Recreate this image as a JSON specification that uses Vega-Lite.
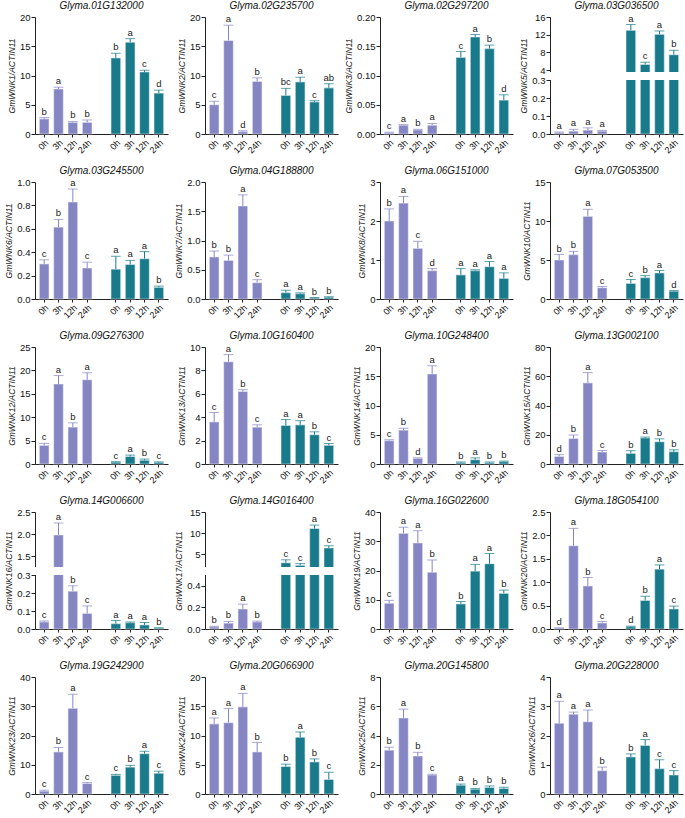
{
"$schema":"https://vega.github.io/schema/vega-lite/v6.json",
"padding":{"left":4,"top":1,"right":2,"bottom":1},
"data":{"values":[
{"g":"01G132000","c":"A","k":"A 0h","v":2.6,"hi":2.8,"l":"b"},{"g":"01G132000","c":"A","k":"A 3h","v":7.7,"hi":8.0,"l":"a"},{"g":"01G132000","c":"A","k":"A 12h","v":2.0,"hi":2.15,"l":"b"},{"g":"01G132000","c":"A","k":"A 24h","v":2.0,"hi":2.4,"l":"b"},
{"g":"01G132000","c":"B","k":"B 0h","v":13.0,"hi":13.8,"l":"b"},{"g":"01G132000","c":"B","k":"B 3h","v":15.7,"hi":16.3,"l":"a"},{"g":"01G132000","c":"B","k":"B 12h","v":10.6,"hi":10.9,"l":"c"},{"g":"01G132000","c":"B","k":"B 24h","v":7.0,"hi":7.5,"l":"d"},
{"g":"02G235700","c":"A","k":"A 0h","v":5.0,"hi":5.6,"l":"c"},{"g":"02G235700","c":"A","k":"A 3h","v":16.0,"hi":18.6,"l":"a"},{"g":"02G235700","c":"A","k":"A 12h","v":0.4,"hi":0.55,"l":"d"},{"g":"02G235700","c":"A","k":"A 24h","v":9.0,"hi":9.6,"l":"b"},
{"g":"02G235700","c":"B","k":"B 0h","v":6.6,"hi":7.8,"l":"bc"},{"g":"02G235700","c":"B","k":"B 3h","v":8.9,"hi":9.7,"l":"a"},{"g":"02G235700","c":"B","k":"B 12h","v":5.5,"hi":5.7,"l":"c"},{"g":"02G235700","c":"B","k":"B 24h","v":7.9,"hi":8.6,"l":"ab"},
{"g":"02G297200","c":"A","k":"A 0h","v":0.002,"hi":0.003,"l":"c"},{"g":"02G297200","c":"A","k":"A 3h","v":0.015,"hi":0.016,"l":"a"},{"g":"02G297200","c":"A","k":"A 12h","v":0.007,"hi":0.008,"l":"b"},{"g":"02G297200","c":"A","k":"A 24h","v":0.015,"hi":0.018,"l":"a"},
{"g":"02G297200","c":"B","k":"B 0h","v":0.131,"hi":0.141,"l":"c"},{"g":"02G297200","c":"B","k":"B 3h","v":0.166,"hi":0.17,"l":"a"},{"g":"02G297200","c":"B","k":"B 12h","v":0.146,"hi":0.152,"l":"b"},{"g":"02G297200","c":"B","k":"B 24h","v":0.058,"hi":0.067,"l":"d"},
{"g":"03G036500","c":"A","k":"A 0h","v":0.008,"hi":0.011,"l":"a"},{"g":"03G036500","c":"A","k":"A 3h","v":0.016,"hi":0.026,"l":"a"},{"g":"03G036500","c":"A","k":"A 12h","v":0.022,"hi":0.034,"l":"a"},{"g":"03G036500","c":"A","k":"A 24h","v":0.016,"hi":0.02,"l":"a"},
{"g":"03G036500","c":"B","k":"B 0h","v":13.0,"hi":14.3,"l":"a"},{"g":"03G036500","c":"B","k":"B 3h","v":5.3,"hi":5.8,"l":"c"},{"g":"03G036500","c":"B","k":"B 12h","v":12.1,"hi":12.85,"l":"a"},{"g":"03G036500","c":"B","k":"B 24h","v":7.5,"hi":8.5,"l":"b"},
{"g":"03G245500","c":"A","k":"A 0h","v":0.3,"hi":0.335,"l":"c"},{"g":"03G245500","c":"A","k":"A 3h","v":0.615,"hi":0.68,"l":"b"},{"g":"03G245500","c":"A","k":"A 12h","v":0.83,"hi":0.94,"l":"a"},{"g":"03G245500","c":"A","k":"A 24h","v":0.265,"hi":0.315,"l":"c"},
{"g":"03G245500","c":"B","k":"B 0h","v":0.255,"hi":0.365,"l":"a"},{"g":"03G245500","c":"B","k":"B 3h","v":0.295,"hi":0.33,"l":"a"},{"g":"03G245500","c":"B","k":"B 12h","v":0.345,"hi":0.405,"l":"a"},{"g":"03G245500","c":"B","k":"B 24h","v":0.1,"hi":0.11,"l":"b"},
{"g":"04G188800","c":"A","k":"A 0h","v":0.72,"hi":0.82,"l":"b"},{"g":"04G188800","c":"A","k":"A 3h","v":0.66,"hi":0.75,"l":"b"},{"g":"04G188800","c":"A","k":"A 12h","v":1.59,"hi":1.78,"l":"a"},{"g":"04G188800","c":"A","k":"A 24h","v":0.28,"hi":0.33,"l":"c"},
{"g":"04G188800","c":"B","k":"B 0h","v":0.11,"hi":0.15,"l":"a"},{"g":"04G188800","c":"B","k":"B 3h","v":0.09,"hi":0.105,"l":"a"},{"g":"04G188800","c":"B","k":"B 12h","v":0.02,"hi":0.025,"l":"b"},{"g":"04G188800","c":"B","k":"B 24h","v":0.03,"hi":0.04,"l":"b"},
{"g":"06G151000","c":"A","k":"A 0h","v":2.0,"hi":2.31,"l":"b"},{"g":"06G151000","c":"A","k":"A 3h","v":2.46,"hi":2.63,"l":"a"},{"g":"06G151000","c":"A","k":"A 12h","v":1.3,"hi":1.48,"l":"c"},{"g":"06G151000","c":"A","k":"A 24h","v":0.73,"hi":0.78,"l":"d"},
{"g":"06G151000","c":"B","k":"B 0h","v":0.62,"hi":0.78,"l":"a"},{"g":"06G151000","c":"B","k":"B 3h","v":0.73,"hi":0.75,"l":"a"},{"g":"06G151000","c":"B","k":"B 12h","v":0.83,"hi":0.96,"l":"a"},{"g":"06G151000","c":"B","k":"B 24h","v":0.53,"hi":0.67,"l":"a"},
{"g":"07G053500","c":"A","k":"A 0h","v":5.0,"hi":5.7,"l":"b"},{"g":"07G053500","c":"A","k":"A 3h","v":5.7,"hi":6.1,"l":"b"},{"g":"07G053500","c":"A","k":"A 12h","v":10.6,"hi":11.5,"l":"a"},{"g":"07G053500","c":"A","k":"A 24h","v":1.45,"hi":1.6,"l":"c"},
{"g":"07G053500","c":"B","k":"B 0h","v":2.0,"hi":2.5,"l":"c"},{"g":"07G053500","c":"B","k":"B 3h","v":2.75,"hi":3.0,"l":"b"},{"g":"07G053500","c":"B","k":"B 12h","v":3.35,"hi":3.65,"l":"a"},{"g":"07G053500","c":"B","k":"B 24h","v":1.0,"hi":1.08,"l":"d"},
{"g":"09G276300","c":"A","k":"A 0h","v":4.0,"hi":4.4,"l":"c"},{"g":"09G276300","c":"A","k":"A 3h","v":17.1,"hi":18.9,"l":"a"},{"g":"09G276300","c":"A","k":"A 12h","v":7.9,"hi":8.8,"l":"b"},{"g":"09G276300","c":"A","k":"A 24h","v":18.0,"hi":19.5,"l":"a"},
{"g":"09G276300","c":"B","k":"B 0h","v":0.4,"hi":0.5,"l":"c"},{"g":"09G276300","c":"B","k":"B 3h","v":1.6,"hi":1.9,"l":"a"},{"g":"09G276300","c":"B","k":"B 12h","v":0.8,"hi":1.05,"l":"b"},{"g":"09G276300","c":"B","k":"B 24h","v":0.35,"hi":0.45,"l":"c"},
{"g":"10G160400","c":"A","k":"A 0h","v":3.6,"hi":4.4,"l":"c"},{"g":"10G160400","c":"A","k":"A 3h","v":8.75,"hi":9.35,"l":"a"},{"g":"10G160400","c":"A","k":"A 12h","v":6.2,"hi":6.35,"l":"b"},{"g":"10G160400","c":"A","k":"A 24h","v":3.15,"hi":3.35,"l":"c"},
{"g":"10G160400","c":"B","k":"B 0h","v":3.3,"hi":3.8,"l":"a"},{"g":"10G160400","c":"B","k":"B 3h","v":3.35,"hi":3.7,"l":"a"},{"g":"10G160400","c":"B","k":"B 12h","v":2.5,"hi":2.75,"l":"b"},{"g":"10G160400","c":"B","k":"B 24h","v":1.6,"hi":1.75,"l":"c"},
{"g":"10G248400","c":"A","k":"A 0h","v":4.0,"hi":4.15,"l":"c"},{"g":"10G248400","c":"A","k":"A 3h","v":5.8,"hi":6.1,"l":"b"},{"g":"10G248400","c":"A","k":"A 12h","v":0.95,"hi":1.05,"l":"d"},{"g":"10G248400","c":"A","k":"A 24h","v":15.4,"hi":16.8,"l":"a"},
{"g":"10G248400","c":"B","k":"B 0h","v":0.25,"hi":0.35,"l":"b"},{"g":"10G248400","c":"B","k":"B 3h","v":0.75,"hi":1.05,"l":"a"},{"g":"10G248400","c":"B","k":"B 12h","v":0.25,"hi":0.35,"l":"b"},{"g":"10G248400","c":"B","k":"B 24h","v":0.4,"hi":0.5,"l":"b"},
{"g":"13G002100","c":"A","k":"A 0h","v":5.2,"hi":6.4,"l":"d"},{"g":"13G002100","c":"A","k":"A 3h","v":17.5,"hi":19.8,"l":"b"},{"g":"13G002100","c":"A","k":"A 12h","v":55.5,"hi":62.5,"l":"a"},{"g":"13G002100","c":"A","k":"A 24h","v":8.2,"hi":9.2,"l":"c"},
{"g":"13G002100","c":"B","k":"B 0h","v":7.3,"hi":9.1,"l":"b"},{"g":"13G002100","c":"B","k":"B 3h","v":17.8,"hi":18.4,"l":"a"},{"g":"13G002100","c":"B","k":"B 12h","v":15.2,"hi":17.2,"l":"b"},{"g":"13G002100","c":"B","k":"B 24h","v":8.5,"hi":9.7,"l":"b"},
{"g":"14G006600","c":"A","k":"A 0h","v":0.04,"hi":0.045,"l":"c"},{"g":"14G006600","c":"A","k":"A 3h","v":1.98,"hi":2.25,"l":"a"},{"g":"14G006600","c":"A","k":"A 12h","v":0.21,"hi":0.24,"l":"b"},{"g":"14G006600","c":"A","k":"A 24h","v":0.087,"hi":0.128,"l":"c"},
{"g":"14G006600","c":"B","k":"B 0h","v":0.03,"hi":0.047,"l":"a"},{"g":"14G006600","c":"B","k":"B 3h","v":0.035,"hi":0.039,"l":"a"},{"g":"14G006600","c":"B","k":"B 12h","v":0.023,"hi":0.036,"l":"a"},{"g":"14G006600","c":"B","k":"B 24h","v":0.005,"hi":0.007,"l":"b"},
{"g":"14G016400","c":"A","k":"A 0h","v":0.02,"hi":0.025,"l":"b"},{"g":"14G016400","c":"A","k":"A 3h","v":0.055,"hi":0.07,"l":"b"},{"g":"14G016400","c":"A","k":"A 12h","v":0.185,"hi":0.23,"l":"a"},{"g":"14G016400","c":"A","k":"A 24h","v":0.065,"hi":0.073,"l":"b"},
{"g":"14G016400","c":"B","k":"B 0h","v":3.0,"hi":3.7,"l":"c"},{"g":"14G016400","c":"B","k":"B 3h","v":2.4,"hi":2.8,"l":"c"},{"g":"14G016400","c":"B","k":"B 12h","v":11.1,"hi":11.9,"l":"a"},{"g":"14G016400","c":"B","k":"B 24h","v":6.5,"hi":7.0,"l":"c"},
{"g":"16G022600","c":"A","k":"A 0h","v":8.8,"hi":9.8,"l":"c"},{"g":"16G022600","c":"A","k":"A 3h","v":32.7,"hi":34.8,"l":"a"},{"g":"16G022600","c":"A","k":"A 12h","v":29.4,"hi":33.6,"l":"a"},{"g":"16G022600","c":"A","k":"A 24h","v":19.4,"hi":23.6,"l":"b"},
{"g":"16G022600","c":"B","k":"B 0h","v":8.6,"hi":9.4,"l":"b"},{"g":"16G022600","c":"B","k":"B 3h","v":19.8,"hi":22.1,"l":"a"},{"g":"16G022600","c":"B","k":"B 12h","v":22.3,"hi":25.8,"l":"a"},{"g":"16G022600","c":"B","k":"B 24h","v":12.2,"hi":13.3,"l":"b"},
{"g":"18G054100","c":"A","k":"A 0h","v":0.02,"hi":0.025,"l":"d"},{"g":"18G054100","c":"A","k":"A 3h","v":1.78,"hi":2.15,"l":"a"},{"g":"18G054100","c":"A","k":"A 12h","v":0.92,"hi":1.1,"l":"b"},{"g":"18G054100","c":"A","k":"A 24h","v":0.13,"hi":0.16,"l":"c"},
{"g":"18G054100","c":"B","k":"B 0h","v":0.05,"hi":0.06,"l":"d"},{"g":"18G054100","c":"B","k":"B 3h","v":0.61,"hi":0.7,"l":"b"},{"g":"18G054100","c":"B","k":"B 12h","v":1.28,"hi":1.37,"l":"a"},{"g":"18G054100","c":"B","k":"B 24h","v":0.43,"hi":0.49,"l":"c"},
{"g":"19G242900","c":"A","k":"A 0h","v":1.0,"hi":1.3,"l":"c"},{"g":"19G242900","c":"A","k":"A 3h","v":14.4,"hi":15.9,"l":"b"},{"g":"19G242900","c":"A","k":"A 12h","v":29.3,"hi":34.1,"l":"a"},{"g":"19G242900","c":"A","k":"A 24h","v":3.6,"hi":3.9,"l":"c"},
{"g":"19G242900","c":"B","k":"B 0h","v":6.4,"hi":6.7,"l":"c"},{"g":"19G242900","c":"B","k":"B 3h","v":9.2,"hi":9.8,"l":"b"},{"g":"19G242900","c":"B","k":"B 12h","v":13.8,"hi":14.6,"l":"a"},{"g":"19G242900","c":"B","k":"B 24h","v":7.1,"hi":7.8,"l":"c"},
{"g":"20G066900","c":"A","k":"A 0h","v":12.0,"hi":13.0,"l":"a"},{"g":"20G066900","c":"A","k":"A 3h","v":12.2,"hi":14.6,"l":"a"},{"g":"20G066900","c":"A","k":"A 12h","v":14.9,"hi":17.2,"l":"a"},{"g":"20G066900","c":"A","k":"A 24h","v":7.2,"hi":8.8,"l":"b"},
{"g":"20G066900","c":"B","k":"B 0h","v":4.7,"hi":5.1,"l":"b"},{"g":"20G066900","c":"B","k":"B 3h","v":9.7,"hi":10.6,"l":"a"},{"g":"20G066900","c":"B","k":"B 12h","v":5.5,"hi":6.0,"l":"b"},{"g":"20G066900","c":"B","k":"B 24h","v":2.5,"hi":3.7,"l":"c"},
{"g":"20G145800","c":"A","k":"A 0h","v":3.0,"hi":3.2,"l":"b"},{"g":"20G145800","c":"A","k":"A 3h","v":5.2,"hi":5.8,"l":"a"},{"g":"20G145800","c":"A","k":"A 12h","v":2.6,"hi":2.85,"l":"b"},{"g":"20G145800","c":"A","k":"A 24h","v":1.3,"hi":1.35,"l":"c"},
{"g":"20G145800","c":"B","k":"B 0h","v":0.6,"hi":0.68,"l":"a"},{"g":"20G145800","c":"B","k":"B 3h","v":0.33,"hi":0.38,"l":"b"},{"g":"20G145800","c":"B","k":"B 12h","v":0.45,"hi":0.55,"l":"b"},{"g":"20G145800","c":"B","k":"B 24h","v":0.38,"hi":0.46,"l":"b"},
{"g":"20G228000","c":"A","k":"A 0h","v":2.42,"hi":3.17,"l":"a"},{"g":"20G228000","c":"A","k":"A 3h","v":2.73,"hi":2.8,"l":"a"},{"g":"20G228000","c":"A","k":"A 12h","v":2.47,"hi":2.87,"l":"a"},{"g":"20G228000","c":"A","k":"A 24h","v":0.8,"hi":0.92,"l":"b"},
{"g":"20G228000","c":"B","k":"B 0h","v":1.27,"hi":1.37,"l":"b"},{"g":"20G228000","c":"B","k":"B 3h","v":1.66,"hi":1.86,"l":"a"},{"g":"20G228000","c":"B","k":"B 12h","v":0.87,"hi":1.17,"l":"c"},{"g":"20G228000","c":"B","k":"B 24h","v":0.65,"hi":0.8,"l":"c"}
]},
"columns":4,
"spacing":{"row":11,"column":6},
"concat":[
{"title":"Glyma.01G132000","width":133,"height":117,"transform":[{"filter":"datum.g=='01G132000'"}],
 "encoding":{"x":{"field":"k","type":"nominal","scale":{"domain":["A 0h","A 3h","A 12h","A 24h","gap","B 0h","B 3h","B 12h","B 24h"]},"axis":{"title":null,"labelExpr":"datum.value=='gap'?'':split(datum.value,' ')[1]","tickOpacity":{"condition":{"test":"datum.value=='gap'","value":0},"value":1}}},
  "y":{"field":"v","type":"quantitative","scale":{"domain":[0,20],"nice":false},"axis":{"values":[0,5,10,15,20],"title":"GmWNK1/ACTIN11"}},"color":{"field":"c","type":"nominal","legend":null}},
 "layer":[{"mark":"bar"},{"mark":"rule","encoding":{"y2":{"field":"hi"}}},{"mark":"tick","encoding":{"y":{"field":"hi","type":"quantitative"}}},{"mark":"text","encoding":{"y":{"field":"hi","type":"quantitative"},"text":{"field":"l"},"color":{"value":"#222"}}}]},
{"title":"Glyma.02G235700","width":133,"height":117,"transform":[{"filter":"datum.g=='02G235700'"}],
 "encoding":{"x":{"field":"k","type":"nominal","scale":{"domain":["A 0h","A 3h","A 12h","A 24h","gap","B 0h","B 3h","B 12h","B 24h"]},"axis":{"title":null,"labelExpr":"datum.value=='gap'?'':split(datum.value,' ')[1]","tickOpacity":{"condition":{"test":"datum.value=='gap'","value":0},"value":1}}},
  "y":{"field":"v","type":"quantitative","scale":{"domain":[0,20],"nice":false},"axis":{"values":[0,5,10,15,20],"title":"GmWNK2/ACTIN11"}},"color":{"field":"c","type":"nominal","legend":null}},
 "layer":[{"mark":"bar"},{"mark":"rule","encoding":{"y2":{"field":"hi"}}},{"mark":"tick","encoding":{"y":{"field":"hi","type":"quantitative"}}},{"mark":"text","encoding":{"y":{"field":"hi","type":"quantitative"},"text":{"field":"l"},"color":{"value":"#222"}}}]},
{"title":"Glyma.02G297200","width":133,"height":117,"transform":[{"filter":"datum.g=='02G297200'"}],
 "encoding":{"x":{"field":"k","type":"nominal","scale":{"domain":["A 0h","A 3h","A 12h","A 24h","gap","B 0h","B 3h","B 12h","B 24h"]},"axis":{"title":null,"labelExpr":"datum.value=='gap'?'':split(datum.value,' ')[1]","tickOpacity":{"condition":{"test":"datum.value=='gap'","value":0},"value":1}}},
  "y":{"field":"v","type":"quantitative","scale":{"domain":[0,0.2],"nice":false},"axis":{"values":[0,0.05,0.1,0.15,0.2],"format":".2f","title":"GmWNK3/ACTIN11"}},"color":{"field":"c","type":"nominal","legend":null}},
 "layer":[{"mark":"bar"},{"mark":"rule","encoding":{"y2":{"field":"hi"}}},{"mark":"tick","encoding":{"y":{"field":"hi","type":"quantitative"}}},{"mark":"text","encoding":{"y":{"field":"hi","type":"quantitative"},"text":{"field":"l"},"color":{"value":"#222"}}}]},
{"title":"Glyma.03G036500","width":133,"height":117,"transform":[{"filter":"datum.g=='03G036500'"}],
 "layer":[
  {"mark":"bar","encoding":{"x":{"field":"k","type":"nominal","scale":{"domain":["A 0h","A 3h","A 12h","A 24h","gap","B 0h","B 3h","B 12h","B 24h"]},"axis":{"title":null,"labelExpr":"datum.value=='gap'?'':split(datum.value,' ')[1]","tickOpacity":{"condition":{"test":"datum.value=='gap'","value":0},"value":1}}},
   "y":{"field":"v","type":"quantitative","scale":{"domain":[0,0.3,3.6,16],"range":[117,63,55,0],"nice":false,"zero":false},"axis":{"values":[0,0.1,0.2,0.3,4,8,12,16],"tickCount":20,"labelOverlap":false,"labelExpr":"datum.value>=1?format(datum.value,'d'):format(datum.value,'.1f')","title":"GmWNK5/ACTIN11"}},"color":{"field":"c","type":"nominal","legend":null}}},
  {"data":{"values":[{"lo":0.3,"up":3.6}]},"mark":{"type":"rect","color":"white"},"encoding":{"y":{"field":"lo","type":"quantitative"},"y2":{"field":"up"}}},
  {"mark":"rule","encoding":{"x":{"field":"k","type":"nominal"},"y":{"field":"v","type":"quantitative"},"y2":{"field":"hi"},"color":{"field":"c","type":"nominal","legend":null}}},
  {"mark":"tick","encoding":{"x":{"field":"k","type":"nominal"},"y":{"field":"hi","type":"quantitative"},"color":{"field":"c","type":"nominal","legend":null}}},
  {"mark":"text","encoding":{"x":{"field":"k","type":"nominal"},"y":{"field":"hi","type":"quantitative"},"text":{"field":"l"},"color":{"value":"#222"}}}]},
{"title":"Glyma.03G245500","width":133,"height":117,"transform":[{"filter":"datum.g=='03G245500'"}],
 "encoding":{"x":{"field":"k","type":"nominal","scale":{"domain":["A 0h","A 3h","A 12h","A 24h","gap","B 0h","B 3h","B 12h","B 24h"]},"axis":{"title":null,"labelExpr":"datum.value=='gap'?'':split(datum.value,' ')[1]","tickOpacity":{"condition":{"test":"datum.value=='gap'","value":0},"value":1}}},
  "y":{"field":"v","type":"quantitative","scale":{"domain":[0,1],"nice":false},"axis":{"values":[0,0.2,0.4,0.6,0.8,1],"format":".1f","title":"GmWNK6/ACTIN11"}},"color":{"field":"c","type":"nominal","legend":null}},
 "layer":[{"mark":"bar"},{"mark":"rule","encoding":{"y2":{"field":"hi"}}},{"mark":"tick","encoding":{"y":{"field":"hi","type":"quantitative"}}},{"mark":"text","encoding":{"y":{"field":"hi","type":"quantitative"},"text":{"field":"l"},"color":{"value":"#222"}}}]},
{"title":"Glyma.04G188800","width":133,"height":117,"transform":[{"filter":"datum.g=='04G188800'"}],
 "encoding":{"x":{"field":"k","type":"nominal","scale":{"domain":["A 0h","A 3h","A 12h","A 24h","gap","B 0h","B 3h","B 12h","B 24h"]},"axis":{"title":null,"labelExpr":"datum.value=='gap'?'':split(datum.value,' ')[1]","tickOpacity":{"condition":{"test":"datum.value=='gap'","value":0},"value":1}}},
  "y":{"field":"v","type":"quantitative","scale":{"domain":[0,2],"nice":false},"axis":{"values":[0,0.5,1,1.5,2],"format":".1f","title":"GmWNK7/ACTIN11"}},"color":{"field":"c","type":"nominal","legend":null}},
 "layer":[{"mark":"bar"},{"mark":"rule","encoding":{"y2":{"field":"hi"}}},{"mark":"tick","encoding":{"y":{"field":"hi","type":"quantitative"}}},{"mark":"text","encoding":{"y":{"field":"hi","type":"quantitative"},"text":{"field":"l"},"color":{"value":"#222"}}}]},
{"title":"Glyma.06G151000","width":133,"height":117,"transform":[{"filter":"datum.g=='06G151000'"}],
 "encoding":{"x":{"field":"k","type":"nominal","scale":{"domain":["A 0h","A 3h","A 12h","A 24h","gap","B 0h","B 3h","B 12h","B 24h"]},"axis":{"title":null,"labelExpr":"datum.value=='gap'?'':split(datum.value,' ')[1]","tickOpacity":{"condition":{"test":"datum.value=='gap'","value":0},"value":1}}},
  "y":{"field":"v","type":"quantitative","scale":{"domain":[0,3],"nice":false},"axis":{"values":[0,1,2,3],"title":"GmWNK8/ACTIN11"}},"color":{"field":"c","type":"nominal","legend":null}},
 "layer":[{"mark":"bar"},{"mark":"rule","encoding":{"y2":{"field":"hi"}}},{"mark":"tick","encoding":{"y":{"field":"hi","type":"quantitative"}}},{"mark":"text","encoding":{"y":{"field":"hi","type":"quantitative"},"text":{"field":"l"},"color":{"value":"#222"}}}]},
{"title":"Glyma.07G053500","width":133,"height":117,"transform":[{"filter":"datum.g=='07G053500'"}],
 "encoding":{"x":{"field":"k","type":"nominal","scale":{"domain":["A 0h","A 3h","A 12h","A 24h","gap","B 0h","B 3h","B 12h","B 24h"]},"axis":{"title":null,"labelExpr":"datum.value=='gap'?'':split(datum.value,' ')[1]","tickOpacity":{"condition":{"test":"datum.value=='gap'","value":0},"value":1}}},
  "y":{"field":"v","type":"quantitative","scale":{"domain":[0,15],"nice":false},"axis":{"values":[0,5,10,15],"title":"GmWNK10/ACTIN11"}},"color":{"field":"c","type":"nominal","legend":null}},
 "layer":[{"mark":"bar"},{"mark":"rule","encoding":{"y2":{"field":"hi"}}},{"mark":"tick","encoding":{"y":{"field":"hi","type":"quantitative"}}},{"mark":"text","encoding":{"y":{"field":"hi","type":"quantitative"},"text":{"field":"l"},"color":{"value":"#222"}}}]},
{"title":"Glyma.09G276300","width":133,"height":117,"transform":[{"filter":"datum.g=='09G276300'"}],
 "encoding":{"x":{"field":"k","type":"nominal","scale":{"domain":["A 0h","A 3h","A 12h","A 24h","gap","B 0h","B 3h","B 12h","B 24h"]},"axis":{"title":null,"labelExpr":"datum.value=='gap'?'':split(datum.value,' ')[1]","tickOpacity":{"condition":{"test":"datum.value=='gap'","value":0},"value":1}}},
  "y":{"field":"v","type":"quantitative","scale":{"domain":[0,25],"nice":false},"axis":{"values":[0,5,10,15,20,25],"title":"GmWNK12/ACTIN11"}},"color":{"field":"c","type":"nominal","legend":null}},
 "layer":[{"mark":"bar"},{"mark":"rule","encoding":{"y2":{"field":"hi"}}},{"mark":"tick","encoding":{"y":{"field":"hi","type":"quantitative"}}},{"mark":"text","encoding":{"y":{"field":"hi","type":"quantitative"},"text":{"field":"l"},"color":{"value":"#222"}}}]},
{"title":"Glyma.10G160400","width":133,"height":117,"transform":[{"filter":"datum.g=='10G160400'"}],
 "encoding":{"x":{"field":"k","type":"nominal","scale":{"domain":["A 0h","A 3h","A 12h","A 24h","gap","B 0h","B 3h","B 12h","B 24h"]},"axis":{"title":null,"labelExpr":"datum.value=='gap'?'':split(datum.value,' ')[1]","tickOpacity":{"condition":{"test":"datum.value=='gap'","value":0},"value":1}}},
  "y":{"field":"v","type":"quantitative","scale":{"domain":[0,10],"nice":false},"axis":{"values":[0,2,4,6,8,10],"title":"GmWNK13/ACTIN11"}},"color":{"field":"c","type":"nominal","legend":null}},
 "layer":[{"mark":"bar"},{"mark":"rule","encoding":{"y2":{"field":"hi"}}},{"mark":"tick","encoding":{"y":{"field":"hi","type":"quantitative"}}},{"mark":"text","encoding":{"y":{"field":"hi","type":"quantitative"},"text":{"field":"l"},"color":{"value":"#222"}}}]},
{"title":"Glyma.10G248400","width":133,"height":117,"transform":[{"filter":"datum.g=='10G248400'"}],
 "encoding":{"x":{"field":"k","type":"nominal","scale":{"domain":["A 0h","A 3h","A 12h","A 24h","gap","B 0h","B 3h","B 12h","B 24h"]},"axis":{"title":null,"labelExpr":"datum.value=='gap'?'':split(datum.value,' ')[1]","tickOpacity":{"condition":{"test":"datum.value=='gap'","value":0},"value":1}}},
  "y":{"field":"v","type":"quantitative","scale":{"domain":[0,20],"nice":false},"axis":{"values":[0,5,10,15,20],"title":"GmWNK14/ACTIN11"}},"color":{"field":"c","type":"nominal","legend":null}},
 "layer":[{"mark":"bar"},{"mark":"rule","encoding":{"y2":{"field":"hi"}}},{"mark":"tick","encoding":{"y":{"field":"hi","type":"quantitative"}}},{"mark":"text","encoding":{"y":{"field":"hi","type":"quantitative"},"text":{"field":"l"},"color":{"value":"#222"}}}]},
{"title":"Glyma.13G002100","width":133,"height":117,"transform":[{"filter":"datum.g=='13G002100'"}],
 "encoding":{"x":{"field":"k","type":"nominal","scale":{"domain":["A 0h","A 3h","A 12h","A 24h","gap","B 0h","B 3h","B 12h","B 24h"]},"axis":{"title":null,"labelExpr":"datum.value=='gap'?'':split(datum.value,' ')[1]","tickOpacity":{"condition":{"test":"datum.value=='gap'","value":0},"value":1}}},
  "y":{"field":"v","type":"quantitative","scale":{"domain":[0,80],"nice":false},"axis":{"values":[0,20,40,60,80],"title":"GmWNK15/ACTIN11"}},"color":{"field":"c","type":"nominal","legend":null}},
 "layer":[{"mark":"bar"},{"mark":"rule","encoding":{"y2":{"field":"hi"}}},{"mark":"tick","encoding":{"y":{"field":"hi","type":"quantitative"}}},{"mark":"text","encoding":{"y":{"field":"hi","type":"quantitative"},"text":{"field":"l"},"color":{"value":"#222"}}}]},
{"title":"Glyma.14G006600","width":133,"height":117,"transform":[{"filter":"datum.g=='14G006600'"}],
 "layer":[
  {"mark":"bar","encoding":{"x":{"field":"k","type":"nominal","scale":{"domain":["A 0h","A 3h","A 12h","A 24h","gap","B 0h","B 3h","B 12h","B 24h"]},"axis":{"title":null,"labelExpr":"datum.value=='gap'?'':split(datum.value,' ')[1]","tickOpacity":{"condition":{"test":"datum.value=='gap'","value":0},"value":1}}},
   "y":{"field":"v","type":"quantitative","scale":{"domain":[0,0.3,1.25,2.5],"range":[117,63,55,0],"nice":false,"zero":false},"axis":{"values":[0,0.1,0.2,0.3,1.5,2,2.5],"tickCount":20,"labelOverlap":false,"format":".1f","title":"GmWNK16/ACTIN11"}},"color":{"field":"c","type":"nominal","legend":null}}},
  {"data":{"values":[{"lo":0.3,"up":1.25}]},"mark":{"type":"rect","color":"white"},"encoding":{"y":{"field":"lo","type":"quantitative"},"y2":{"field":"up"}}},
  {"mark":"rule","encoding":{"x":{"field":"k","type":"nominal"},"y":{"field":"v","type":"quantitative"},"y2":{"field":"hi"},"color":{"field":"c","type":"nominal","legend":null}}},
  {"mark":"tick","encoding":{"x":{"field":"k","type":"nominal"},"y":{"field":"hi","type":"quantitative"},"color":{"field":"c","type":"nominal","legend":null}}},
  {"mark":"text","encoding":{"x":{"field":"k","type":"nominal"},"y":{"field":"hi","type":"quantitative"},"text":{"field":"l"},"color":{"value":"#222"}}}]},
{"title":"Glyma.14G016400","width":133,"height":117,"transform":[{"filter":"datum.g=='14G016400'"}],
 "layer":[
  {"mark":"bar","encoding":{"x":{"field":"k","type":"nominal","scale":{"domain":["A 0h","A 3h","A 12h","A 24h","gap","B 0h","B 3h","B 12h","B 24h"]},"axis":{"title":null,"labelExpr":"datum.value=='gap'?'':split(datum.value,' ')[1]","tickOpacity":{"condition":{"test":"datum.value=='gap'","value":0},"value":1}}},
   "y":{"field":"v","type":"quantitative","scale":{"domain":[0,0.5,2,15],"range":[117,63,55,0],"nice":false,"zero":false},"axis":{"values":[0,0.2,0.4,5,10,15],"tickCount":20,"labelOverlap":false,"labelExpr":"datum.value>=1?format(datum.value,'d'):format(datum.value,'.1f')","title":"GmWNK17/ACTIN11"}},"color":{"field":"c","type":"nominal","legend":null}}},
  {"data":{"values":[{"lo":0.5,"up":2}]},"mark":{"type":"rect","color":"white"},"encoding":{"y":{"field":"lo","type":"quantitative"},"y2":{"field":"up"}}},
  {"mark":"rule","encoding":{"x":{"field":"k","type":"nominal"},"y":{"field":"v","type":"quantitative"},"y2":{"field":"hi"},"color":{"field":"c","type":"nominal","legend":null}}},
  {"mark":"tick","encoding":{"x":{"field":"k","type":"nominal"},"y":{"field":"hi","type":"quantitative"},"color":{"field":"c","type":"nominal","legend":null}}},
  {"mark":"text","encoding":{"x":{"field":"k","type":"nominal"},"y":{"field":"hi","type":"quantitative"},"text":{"field":"l"},"color":{"value":"#222"}}}]},
{"title":"Glyma.16G022600","width":133,"height":117,"transform":[{"filter":"datum.g=='16G022600'"}],
 "encoding":{"x":{"field":"k","type":"nominal","scale":{"domain":["A 0h","A 3h","A 12h","A 24h","gap","B 0h","B 3h","B 12h","B 24h"]},"axis":{"title":null,"labelExpr":"datum.value=='gap'?'':split(datum.value,' ')[1]","tickOpacity":{"condition":{"test":"datum.value=='gap'","value":0},"value":1}}},
  "y":{"field":"v","type":"quantitative","scale":{"domain":[0,40],"nice":false},"axis":{"values":[0,10,20,30,40],"title":"GmWNK19/ACTIN11"}},"color":{"field":"c","type":"nominal","legend":null}},
 "layer":[{"mark":"bar"},{"mark":"rule","encoding":{"y2":{"field":"hi"}}},{"mark":"tick","encoding":{"y":{"field":"hi","type":"quantitative"}}},{"mark":"text","encoding":{"y":{"field":"hi","type":"quantitative"},"text":{"field":"l"},"color":{"value":"#222"}}}]},
{"title":"Glyma.18G054100","width":133,"height":117,"transform":[{"filter":"datum.g=='18G054100'"}],
 "encoding":{"x":{"field":"k","type":"nominal","scale":{"domain":["A 0h","A 3h","A 12h","A 24h","gap","B 0h","B 3h","B 12h","B 24h"]},"axis":{"title":null,"labelExpr":"datum.value=='gap'?'':split(datum.value,' ')[1]","tickOpacity":{"condition":{"test":"datum.value=='gap'","value":0},"value":1}}},
  "y":{"field":"v","type":"quantitative","scale":{"domain":[0,2.5],"nice":false},"axis":{"values":[0,0.5,1,1.5,2,2.5],"format":".1f","title":"GmWNK20/ACTIN11"}},"color":{"field":"c","type":"nominal","legend":null}},
 "layer":[{"mark":"bar"},{"mark":"rule","encoding":{"y2":{"field":"hi"}}},{"mark":"tick","encoding":{"y":{"field":"hi","type":"quantitative"}}},{"mark":"text","encoding":{"y":{"field":"hi","type":"quantitative"},"text":{"field":"l"},"color":{"value":"#222"}}}]},
{"title":"Glyma.19G242900","width":133,"height":117,"transform":[{"filter":"datum.g=='19G242900'"}],
 "encoding":{"x":{"field":"k","type":"nominal","scale":{"domain":["A 0h","A 3h","A 12h","A 24h","gap","B 0h","B 3h","B 12h","B 24h"]},"axis":{"title":null,"labelExpr":"datum.value=='gap'?'':split(datum.value,' ')[1]","tickOpacity":{"condition":{"test":"datum.value=='gap'","value":0},"value":1}}},
  "y":{"field":"v","type":"quantitative","scale":{"domain":[0,40],"nice":false},"axis":{"values":[0,10,20,30,40],"title":"GmWNK23/ACTIN11"}},"color":{"field":"c","type":"nominal","legend":null}},
 "layer":[{"mark":"bar"},{"mark":"rule","encoding":{"y2":{"field":"hi"}}},{"mark":"tick","encoding":{"y":{"field":"hi","type":"quantitative"}}},{"mark":"text","encoding":{"y":{"field":"hi","type":"quantitative"},"text":{"field":"l"},"color":{"value":"#222"}}}]},
{"title":"Glyma.20G066900","width":133,"height":117,"transform":[{"filter":"datum.g=='20G066900'"}],
 "encoding":{"x":{"field":"k","type":"nominal","scale":{"domain":["A 0h","A 3h","A 12h","A 24h","gap","B 0h","B 3h","B 12h","B 24h"]},"axis":{"title":null,"labelExpr":"datum.value=='gap'?'':split(datum.value,' ')[1]","tickOpacity":{"condition":{"test":"datum.value=='gap'","value":0},"value":1}}},
  "y":{"field":"v","type":"quantitative","scale":{"domain":[0,20],"nice":false},"axis":{"values":[0,5,10,15,20],"title":"GmWNK24/ACTIN11"}},"color":{"field":"c","type":"nominal","legend":null}},
 "layer":[{"mark":"bar"},{"mark":"rule","encoding":{"y2":{"field":"hi"}}},{"mark":"tick","encoding":{"y":{"field":"hi","type":"quantitative"}}},{"mark":"text","encoding":{"y":{"field":"hi","type":"quantitative"},"text":{"field":"l"},"color":{"value":"#222"}}}]},
{"title":"Glyma.20G145800","width":133,"height":117,"transform":[{"filter":"datum.g=='20G145800'"}],
 "encoding":{"x":{"field":"k","type":"nominal","scale":{"domain":["A 0h","A 3h","A 12h","A 24h","gap","B 0h","B 3h","B 12h","B 24h"]},"axis":{"title":null,"labelExpr":"datum.value=='gap'?'':split(datum.value,' ')[1]","tickOpacity":{"condition":{"test":"datum.value=='gap'","value":0},"value":1}}},
  "y":{"field":"v","type":"quantitative","scale":{"domain":[0,8],"nice":false},"axis":{"values":[0,2,4,6,8],"title":"GmWNK25/ACTIN11"}},"color":{"field":"c","type":"nominal","legend":null}},
 "layer":[{"mark":"bar"},{"mark":"rule","encoding":{"y2":{"field":"hi"}}},{"mark":"tick","encoding":{"y":{"field":"hi","type":"quantitative"}}},{"mark":"text","encoding":{"y":{"field":"hi","type":"quantitative"},"text":{"field":"l"},"color":{"value":"#222"}}}]},
{"title":"Glyma.20G228000","width":133,"height":117,"transform":[{"filter":"datum.g=='20G228000'"}],
 "encoding":{"x":{"field":"k","type":"nominal","scale":{"domain":["A 0h","A 3h","A 12h","A 24h","gap","B 0h","B 3h","B 12h","B 24h"]},"axis":{"title":null,"labelExpr":"datum.value=='gap'?'':split(datum.value,' ')[1]","tickOpacity":{"condition":{"test":"datum.value=='gap'","value":0},"value":1}}},
  "y":{"field":"v","type":"quantitative","scale":{"domain":[0,4],"nice":false},"axis":{"values":[0,1,2,3,4],"title":"GmWNK26/ACTIN11"}},"color":{"field":"c","type":"nominal","legend":null}},
 "layer":[{"mark":"bar"},{"mark":"rule","encoding":{"y2":{"field":"hi"}}},{"mark":"tick","encoding":{"y":{"field":"hi","type":"quantitative"}}},{"mark":"text","encoding":{"y":{"field":"hi","type":"quantitative"},"text":{"field":"l"},"color":{"value":"#222"}}}]}
],
"config":{
 "font":"Liberation Sans",
 "view":{"stroke":null},
 "range":{"category":["#8585C4","#187A8B"]},
 "scale":{"bandPaddingInner":0.32,"bandPaddingOuter":0.3},
 "bar":{"stroke":"#ffffff","strokeOpacity":0.45,"strokeWidth":1.2},
 "rule":{"strokeWidth":1},
 "tick":{"thickness":1,"bandSize":6},
 "text":{"baseline":"bottom","dy":-1,"fontSize":9.5},
 "title":{"fontSize":10,"fontStyle":"italic","fontWeight":"normal","offset":1,"color":"#111","anchor":"middle"},
 "axis":{"domainColor":"#222","tickColor":"#222","labelColor":"#111","labelFontSize":9.5,"tickSize":4,"grid":false,"titleFontSize":8.5,"titleFontWeight":"normal","titleFontStyle":"italic","titleColor":"#222","labelPadding":1,"titlePadding":3},
 "axisX":{"labelAngle":-45,"labelFontSize":9,"tickSize":3},
 "axisY":{"labelOverlap":false}
}
}
